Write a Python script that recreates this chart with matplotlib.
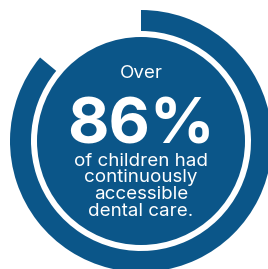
import matplotlib
matplotlib.use("Agg")
import matplotlib.pyplot as plt
from matplotlib.patches import Circle

# data
share = 86                      # percent with continuous access
lead_text = "Over"
value_text = f"{share}%"
body_lines = ["of children had", "continuously", "accessible", "dental care."]

blue = "#0B5689"

plt.rcParams['font.family'] = ['Inter', 'DejaVu Sans']

fig = plt.figure(figsize=(2.68, 2.69), dpi=100)
ax = fig.add_axes([0, 0, 1, 1])

# outer ring: share of the full circle, clockwise from 12 o'clock
ax.pie([share, 100 - share], startangle=90, counterclock=False,
       radius=131, colors=[blue, "none"],
       wedgeprops=dict(width=21, linewidth=0))

# inner disc
ax.add_patch(Circle((0, 0), 104, color=blue, lw=0))

ax.text(0, 63, lead_text, ha='center', va='baseline', color='white',
        fontsize=13.5)
ax.text(0, -3, value_text, ha='center', va='baseline', color='white',
        fontsize=46, fontweight='bold')
y = -24.5
for line in body_lines:
    ax.text(0, y, line, ha='center', va='baseline', color='white',
            fontsize=13.5)
    y -= 16.8

ax.set_xlim(-141, 127)
ax.set_ylim(-128, 141)
ax.set_aspect('equal')
ax.axis('off')

fig.savefig("out.png", dpi=100)
